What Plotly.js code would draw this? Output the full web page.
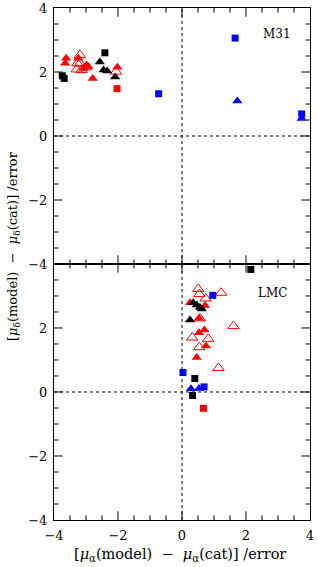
<!DOCTYPE html>
<html>
<head>
<meta charset="utf-8">
<script src="https://cdn.plot.ly/plotly-3.0.1.min.js"></script>
<style>html,body{margin:0;padding:0;background:#fff;}#chart{width:318px;height:567px;}</style>
</head>
<body>
<div id="chart"></div>
<script>
// ---- M31 panel data ----
var m31BlackSqX = [-3.74, -3.68, -2.41];
var m31BlackSqY = [1.88, 1.80, 2.60];
var m31BlackTriX = [-2.57, -2.45, -2.34, -2.09];
var m31BlackTriY = [2.31, 2.06, 2.03, 1.84];
var m31RedTriX = [-3.62, -3.65, -3.24, -2.98, -2.93, -3.08, -2.79, -2.02];
var m31RedTriY = [2.43, 2.27, 2.43, 2.22, 2.17, 2.11, 1.80, 2.15];
var m31RedOpenX = [-3.19, -3.27, -3.19, -3.14, -3.29, -2.06, -3.00];
var m31RedOpenY = [2.53, 2.27, 2.27, 2.06, 2.08, 2.01, 2.15];
var m31RedSqX = [-2.03];
var m31RedSqY = [1.48];
var m31BlueSqX = [-0.73, 1.66, 3.74];
var m31BlueSqY = [1.32, 3.06, 0.69];
var m31BlueTriX = [1.73, 3.74];
var m31BlueTriY = [1.09, 0.55];

// ---- LMC panel data ----
var lmcBlackSqX = [2.15, 0.40, 0.33];
var lmcBlackSqY = [3.83, 0.42, -0.11];
var lmcRedOpenX = [0.51, 0.54, 1.22, 0.74, 1.61, 0.32, 0.82, 0.54, 1.14, 0.56];
var lmcRedOpenY = [3.22, 3.06, 3.10, 2.92, 2.06, 1.70, 1.66, 1.40, 0.75, 2.30];
var lmcRedTriX = [0.25, 0.72, 0.53, 0.53, 0.70, 0.75, 0.46];
var lmcRedTriY = [2.79, 2.70, 2.30, 1.85, 1.94, 1.44, 1.08];
var lmcBlackTriX = [0.35, 0.46, 0.56, 0.25, 0.62];
var lmcBlackTriY = [2.79, 2.72, 2.64, 2.25, 2.59];
var lmcBlueSqX = [0.96, 0.03, 0.69];
var lmcBlueSqY = [3.02, 0.61, 0.16];
var lmcBlueTriX = [0.28, 0.53];
var lmcBlueTriY = [0.10, 0.11];
var lmcRedSqX = [0.67];
var lmcRedSqY = [-0.51];

// ---- axis tick positions (same for both axes of both panels) ----
var majorTicks = [-2, 0, 2];
var minorTicks = [-3.5, -3, -2.5, -1.5, -1, -0.5, 0.5, 1, 1.5, 2.5, 3, 3.5];
var AX_MIN = -4, AX_MAX = 4;

var FONT = 'DejaVu Serif, Liberation Serif, serif';

function tr(x, y, sym, color, size, xa, ya) {
  var open = sym.indexOf('open') >= 0;
  return {
    x: x, y: y, type: 'scatter', mode: 'markers', xaxis: xa, yaxis: ya,
    hoverinfo: 'skip', showlegend: false,
    marker: {symbol: sym, color: color, size: size,
             line: {width: open ? 1 : 0, color: color}}
  };
}

var data = [
  tr(m31RedOpenX, m31RedOpenY, 'triangle-up-open', '#ff0000', 10, 'x2', 'y2'),
  tr(m31RedTriX, m31RedTriY, 'triangle-up', '#ff0000', 9, 'x2', 'y2'),
  tr(m31BlackTriX, m31BlackTriY, 'triangle-up', '#000000', 9, 'x2', 'y2'),
  tr(m31BlackSqX, m31BlackSqY, 'square', '#000000', 7, 'x2', 'y2'),
  tr(m31RedSqX, m31RedSqY, 'square', '#ff0000', 7, 'x2', 'y2'),
  tr(m31BlueSqX, m31BlueSqY, 'square', '#0000ff', 7, 'x2', 'y2'),
  tr(m31BlueTriX, m31BlueTriY, 'triangle-up', '#0000ff', 9, 'x2', 'y2'),

  tr(lmcRedOpenX, lmcRedOpenY, 'triangle-up-open', '#ff0000', 10, 'x', 'y'),
  tr(lmcRedTriX, lmcRedTriY, 'triangle-up', '#ff0000', 9, 'x', 'y'),
  tr(lmcBlackTriX, lmcBlackTriY, 'triangle-up', '#000000', 9, 'x', 'y'),
  tr(lmcBlackSqX, lmcBlackSqY, 'square', '#000000', 7, 'x', 'y'),
  tr(lmcBlueSqX, lmcBlueSqY, 'square', '#0000ff', 7, 'x', 'y'),
  tr(lmcBlueTriX, lmcBlueTriY, 'triangle-up', '#0000ff', 9, 'x', 'y'),
  tr(lmcRedSqX, lmcRedSqY, 'square', '#ff0000', 7, 'x', 'y')
];

function axisCommon(range) {
  return {
    range: range, autorange: false, showgrid: false, zeroline: false,
    showline: true, linecolor: 'black', linewidth: 1, mirror: true,
    ticks: '', tickmode: 'linear', tick0: -4, dtick: 2,
    tickfont: {family: FONT, size: 13, color: '#000'},
    ticklabelstandoff: 3
  };
}

var xa = axisCommon([-4, 4]); xa.anchor = 'y';
var xa2 = axisCommon([-4, 4]); xa2.anchor = 'y2'; xa2.showticklabels = false;
var ya = axisCommon([-4, 3.999]); ya.domain = [0, 0.5]; ya.anchor = 'x';
var ya2 = axisCommon([-4, 4]); ya2.domain = [0.5, 1]; ya2.anchor = 'x2';

var dot = {color: '#000', width: 1, dash: 'dot'};
var shapes = [
  {type: 'line', xref: 'x', yref: 'y', x0: 0, x1: 0, y0: -4, y1: 4, line: dot},
  {type: 'line', xref: 'x', yref: 'y', x0: -4, x1: 4, y0: 0, y1: 0, line: dot},
  {type: 'line', xref: 'x2', yref: 'y2', x0: 0, x1: 0, y0: -4, y1: 4, line: dot},
  {type: 'line', xref: 'x2', yref: 'y2', x0: -4, x1: 4, y0: 0, y1: 0, line: dot}
];

// inside tick marks on all four sides of each panel (length in axis units)
var tickLine = {color: '#000', width: 1};
function addTicks(xr, yr, vals, len) {
  vals.forEach(function (v) {
    shapes.push({type: 'line', xref: xr, yref: yr, x0: v, x1: v, y0: AX_MIN, y1: AX_MIN + len, line: tickLine});
    shapes.push({type: 'line', xref: xr, yref: yr, x0: v, x1: v, y0: AX_MAX, y1: AX_MAX - len, line: tickLine});
    shapes.push({type: 'line', xref: xr, yref: yr, y0: v, y1: v, x0: AX_MIN, x1: AX_MIN + len, line: tickLine});
    shapes.push({type: 'line', xref: xr, yref: yr, y0: v, y1: v, x0: AX_MAX, x1: AX_MAX - len, line: tickLine});
  });
}
addTicks('x', 'y', majorTicks, 0.27);
addTicks('x', 'y', minorTicks, 0.14);
addTicks('x2', 'y2', majorTicks, 0.27);
addTicks('x2', 'y2', minorTicks, 0.14);

var annotations = [
  {xref: 'x2', yref: 'y2', x: 2.97, y: 3.2, text: 'M31', showarrow: false,
   font: {family: FONT, size: 12, color: '#000'}},
  {xref: 'x', yref: 'y', x: 2.84, y: 3.1, text: 'LMC', showarrow: false,
   font: {family: FONT, size: 12, color: '#000'}},
  {xref: 'paper', yref: 'paper', x: 0.492, y: -0.068, xanchor: 'center', yanchor: 'middle',
   text: '[<i>\u03bc</i><sub>\u03b1</sub>(model)\u00a0\u00a0\u2212\u00a0\u00a0<i>\u03bc</i><sub>\u03b1</sub>(cat)]\u00a0/error',
   showarrow: false, font: {family: FONT, size: 14.5, color: '#000'}},
  {xref: 'paper', yref: 'paper', x: -0.16, y: 0.535, xanchor: 'center', yanchor: 'middle', textangle: -90,
   text: '[<i>\u03bc</i><sub>\u03b4</sub>(model)\u00a0\u00a0\u2212\u00a0\u00a0<i>\u03bc</i><sub>\u03b4</sub>(cat)]\u00a0/error',
   showarrow: false, font: {family: FONT, size: 13, color: '#000'}}
];

var layout = {
  width: 318, height: 567,
  margin: {l: 54, r: 8, t: 8, b: 47},
  paper_bgcolor: '#fff', plot_bgcolor: '#fff',
  xaxis: xa, xaxis2: xa2, yaxis: ya, yaxis2: ya2,
  shapes: shapes, annotations: annotations,
  showlegend: false
};

Plotly.newPlot('chart', data, layout, {displayModeBar: false});
</script>
</body>
</html>
